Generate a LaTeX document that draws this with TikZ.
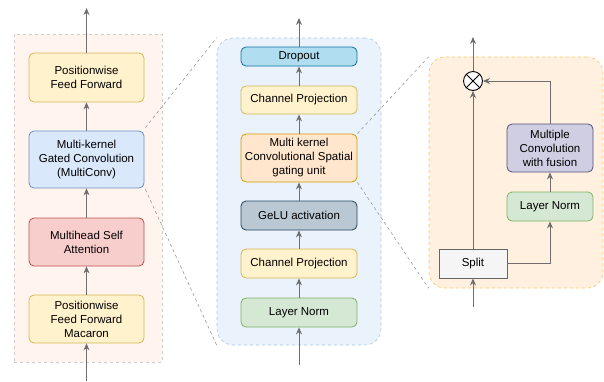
\documentclass[tikz,border=0pt]{standalone}
\usepackage{fontspec}
\setmainfont{Liberation Sans}
\usetikzlibrary{arrows.meta}
\definecolor{ylwF}{HTML}{FFF2CC}\definecolor{ylwD}{HTML}{D6B656}
\definecolor{bluF}{HTML}{DAE8FC}\definecolor{bluD}{HTML}{6C8EBF}
\definecolor{redF}{HTML}{F8CECC}\definecolor{redD}{HTML}{B85450}
\definecolor{grnF}{HTML}{D5E8D4}\definecolor{grnD}{HTML}{82B366}
\definecolor{orgF}{HTML}{FFE6CC}\definecolor{orgD}{HTML}{D79B00}
\definecolor{cyaF}{HTML}{B1DDF0}\definecolor{cyaD}{HTML}{10739E}
\definecolor{slaF}{HTML}{BAC8D3}\definecolor{slaD}{HTML}{23445D}
\definecolor{purF}{HTML}{D0CEE2}\definecolor{purD}{HTML}{56517E}
\definecolor{splF}{HTML}{F5F5F5}\definecolor{splD}{HTML}{666666}
\definecolor{arr}{HTML}{6E6E6E}
\begin{document}
\begin{tikzpicture}[x=1pt,y=-1pt,
  blk/.style={rectangle, rounded corners=5pt, draw, line width=0.8pt, align=center,
    font=\fontsize{11.5}{14}\selectfont, inner sep=0pt},
  flow/.style={draw=arr, line width=0.9pt, -{Stealth[length=7pt,width=6pt]}},
  zoomln/.style={draw=gray!80, dashed, line width=0.6pt}]
\useasboundingbox (0,0) rectangle (604,381);
% panels
\node[rectangle, fill={rgb,255:red,255;green,245;blue,238}, draw=gray!40, dashed, line width=0.6pt,
  minimum width=148pt, minimum height=328pt] (encp) at (88,198){};
\node[rectangle, rounded corners=16pt, fill={rgb,255:red,234;green,242;blue,252}, draw={rgb,255:red,169;green,196;blue,235}, dashed, line width=0.6pt,
  minimum width=164pt, minimum height=307pt] (convp) at (299,191.5){};
\node[rectangle, rounded corners=16pt, fill={rgb,255:red,255;green,240;blue,224}, draw={rgb,255:red,245;green,198;blue,107}, dashed, line width=0.6pt,
  minimum width=174pt, minimum height=231pt] (gatep) at (516,172.5){};
% encoder block
\coordinate (encin) at (86.5,381);
\coordinate (encout) at (86.5,8);
\node[blk, fill=ylwF, draw=ylwD, minimum width=115pt, minimum height=48pt] (pffm) at (86.5,319){Positionwise\\Feed Forward\\Macaron};
\node[blk, fill=redF, draw=redD, minimum width=115pt, minimum height=48pt] (mhsa) at (86.5,242){Multihead Self\\Attention};
\node[blk, fill=bluF, draw=bluD, minimum width=115pt, minimum height=57pt] (mconv) at (86.5,159.5){Multi-kernel\\Gated Convolution\\(MultiConv)};
\node[blk, fill=ylwF, draw=ylwD, minimum width=115pt, minimum height=49pt] (pffa) at (86.5,77.5){Positionwise\\Feed Forward};
\draw[flow] (encin) -- (pffm);
\draw[flow] (pffm) -- (mhsa);
\draw[flow] (mhsa) -- (mconv);
\draw[flow] (mconv) -- (pffa);
\draw[flow] (pffa) -- (encout);
% multiconv module
\coordinate (convin) at (299,365);
\coordinate (convout) at (299,18);
\node[blk, fill=grnF, draw=grnD, minimum width=116pt, minimum height=29pt] (ln) at (299,312.5){Layer Norm};
\node[blk, fill=ylwF, draw=ylwD, minimum width=116pt, minimum height=29pt] (cpa) at (299,263.5){Channel Projection};
\node[blk, fill=slaF, draw=slaD, minimum width=116pt, minimum height=29pt] (gelu) at (299,215.5){GeLU activation};
\node[blk, fill=orgF, draw=orgD, minimum width=116pt, minimum height=48pt] (mkcsgu) at (299,158){Multi kernel\\Convolutional Spatial\\gating unit};
\node[blk, fill=ylwF, draw=ylwD, minimum width=116pt, minimum height=28pt] (cpb) at (299,100){Channel Projection};
\node[blk, fill=cyaF, draw=cyaD, minimum width=116pt, minimum height=19pt] (drop) at (299,56.5){Dropout};
\draw[flow] (convin) -- (ln);
\draw[flow] (ln) -- (cpa);
\draw[flow] (cpa) -- (gelu);
\draw[flow] (gelu) -- (mkcsgu);
\draw[flow] (mkcsgu) -- (cpb);
\draw[flow] (cpb) -- (drop);
\draw[flow] (drop) -- (convout);
% gating unit
\coordinate (gatein) at (473,307);
\coordinate (gateout) at (473,37);
\node[blk, rounded corners=0pt, fill=splF, draw=splD, minimum width=68pt, minimum height=29pt] (split) at (473,263.5){Split};
\node[blk, fill=grnF, draw=grnD, minimum width=86pt, minimum height=29pt] (lnb) at (550,206.5){Layer Norm};
\node[blk, fill=purF, draw=purD, minimum width=86pt, minimum height=48pt] (mcf) at (550,148){Multiple\\Convolution\\with fusion};
\node[circle, fill=white, draw=black, line width=0.9pt, minimum size=19pt, inner sep=0pt] (mul) at (473,81){};
\draw[line width=0.9pt] (mul.north west) -- (mul.south east) (mul.north east) -- (mul.south west);
\draw[flow] (gatein) -- (split);
\draw[flow] (split) -- (mul);
\draw[flow] (mul) -- (gateout);
\draw[flow] (split.east) -| (lnb.south);
\draw[flow] (lnb) -- (mcf);
\draw[flow] (mcf.north) |- (mul.east);
% zoom lines
\draw[zoomln] (mconv.north east) ++(1,-3) -- (convp.north west);
\draw[zoomln] (mconv.south east) ++(1,1) -- (convp.south west);
\draw[zoomln] (mkcsgu.north east) -- (gatep.north west);
\draw[zoomln] (mkcsgu.south east) -- (gatep.south west);
\end{tikzpicture}
\end{document}
